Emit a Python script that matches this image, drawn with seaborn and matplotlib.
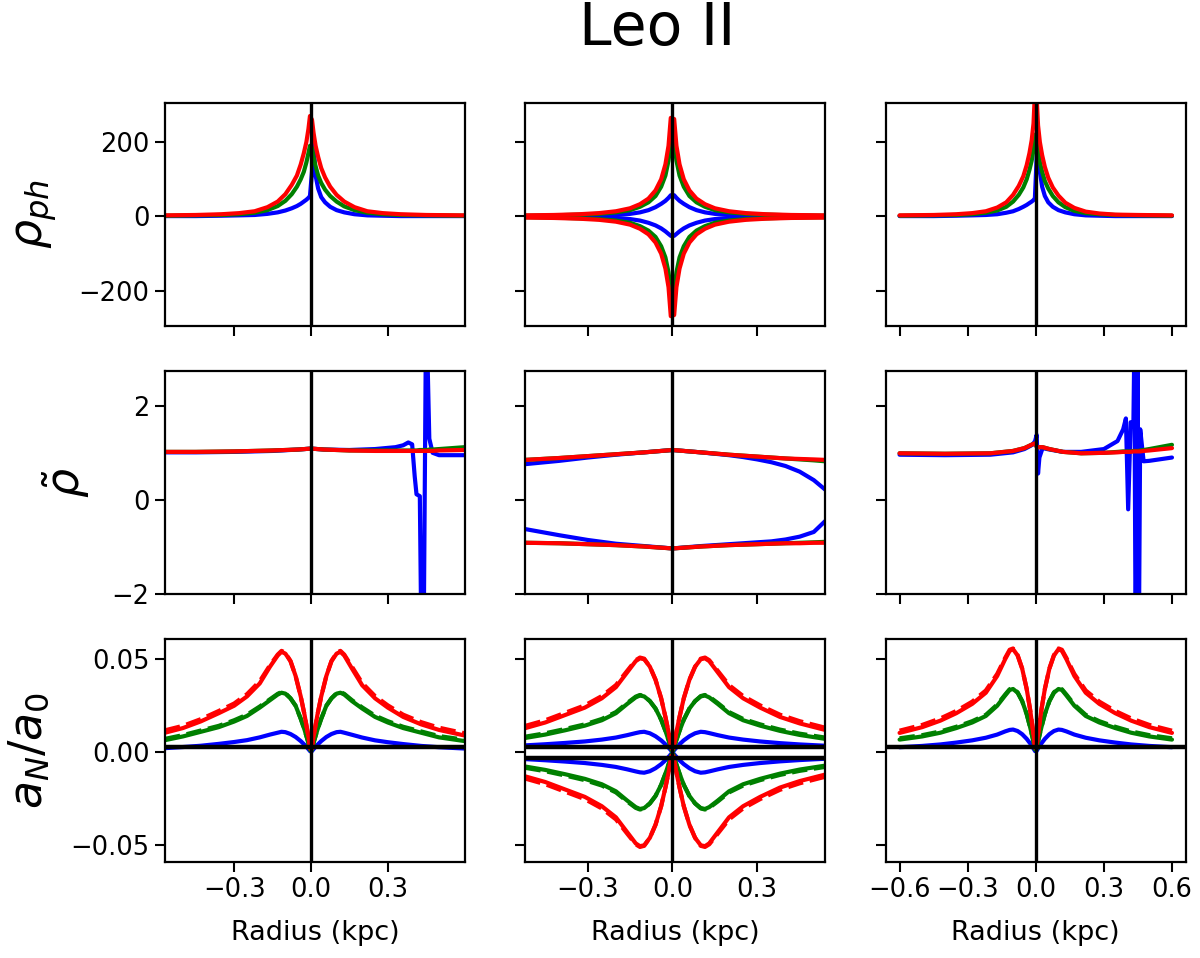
import numpy as np
import matplotlib
matplotlib.use("Agg")
import matplotlib.pyplot as plt
import seaborn as sns

sns.set_style("ticks")
plt.rcParams['font.family'] = ['DejaVu Sans']
plt.rcParams['axes.linewidth'] = 1.6
plt.rcParams['axes.edgecolor'] = 'black'
plt.rcParams['text.color'] = 'black'
plt.rcParams['axes.labelcolor'] = 'black'
plt.rcParams['xtick.color'] = 'black'
plt.rcParams['ytick.color'] = 'black'
plt.rcParams['xtick.major.width'] = 1.5
plt.rcParams['ytick.major.width'] = 1.5
plt.rcParams['xtick.major.size'] = 7
plt.rcParams['ytick.major.size'] = 7

# ---- x limits / ticks per column
XLIM = [(-0.57, 0.60), (-0.52, 0.54), (-0.66, 0.66)]
XTICKS = [[-0.3, 0.0, 0.3], [-0.3, 0.0, 0.3], [-0.6, -0.3, 0.0, 0.3, 0.6]]
YLIM = [(-295, 305), (-2.0, 2.74), (-0.059, 0.061)]
YTICKS = [[-200, 0, 200], [-2, 0, 2], [-0.05, 0.0, 0.05]]
YLABELS = [r'$\rho_{ph}$', r'$\tilde{\rho}$', r'$a_N/a_0$']
A0_LINE = 0.003

# ---- row 1: rho_ph
r1_x1 = [-0.57, -0.45, -0.35, -0.28, -0.22, -0.17, -0.13, -0.1, -0.075, -0.055, -0.04, -0.028, -0.018, -0.01, -0.004,
         0.004, 0.01, 0.018, 0.028, 0.04, 0.055, 0.075, 0.1, 0.13, 0.17, 0.22, 0.28, 0.35, 0.45, 0.6]
r1_red1 = [3, 4, 6, 9, 14, 25, 40, 60, 85, 110, 140, 170, 200, 235, 270,
           260, 225, 190, 160, 130, 105, 80, 58, 40, 25, 14, 9, 6, 4, 3]
r1_green1 = [2, 3, 4, 6, 10, 17, 28, 42, 60, 80, 100, 120, 145, 170, 190,
             185, 160, 135, 110, 90, 72, 55, 40, 27, 17, 10, 6, 4, 3, 2]
r1_blue1 = [1, 1, 2, 3, 4, 7, 11, 16, 22, 28, 34, 40, 45, 50, 55,
            120, 195, 110, 75, 52, 38, 26, 17, 11, 6, 3, 2, 1, 1, 1]

r1_x2 = [-0.52, -0.42, -0.33, -0.26, -0.2, -0.15, -0.115, -0.085, -0.06, -0.04, -0.025, -0.014, -0.006,
         0.006, 0.014, 0.025, 0.04, 0.06, 0.085, 0.115, 0.15, 0.2, 0.26, 0.33, 0.42, 0.54]
r1_red2_up = [3, 4, 6, 9, 14, 22, 33, 48, 70, 100, 140, 190, 265,
              262, 190, 140, 100, 70, 48, 33, 22, 14, 9, 6, 4, 3]
r1_red2_lo = [-3, -4, -6, -9, -14, -22, -33, -48, -70, -100, -140, -190, -268,
              -265, -190, -140, -100, -70, -48, -33, -22, -14, -9, -6, -4, -3]
r1_green2_up = [2, 3, 5, 7, 11, 17, 26, 38, 55, 80, 110, 150, 200,
                200, 150, 110, 80, 55, 38, 26, 17, 11, 7, 5, 3, 2]
r1_green2_lo = [-2, -3, -5, -7, -11, -17, -26, -38, -55, -80, -110, -150, -200,
                -200, -150, -110, -80, -55, -38, -26, -17, -11, -7, -5, -3, -2]
r1_blue2_up = [0.5, 1, 1.5, 2, 4, 7, 11, 17, 25, 34, 42, 50, 57,
               57, 50, 42, 34, 25, 17, 11, 7, 4, 2, 1.5, 1, 0.5]
r1_blue2_lo = [-0.5, -1, -1.5, -2, -4, -7, -11, -17, -24, -32, -40, -47, -52,
               -52, -47, -40, -32, -24, -17, -11, -7, -4, -2, -1.5, -1, -0.5]

r1_x3 = [-0.6, -0.45, -0.35, -0.28, -0.22, -0.17, -0.13, -0.1, -0.075, -0.055, -0.04, -0.028, -0.018, -0.01, -0.004,
         0.004, 0.01, 0.018, 0.028, 0.04, 0.055, 0.075, 0.1, 0.13, 0.17, 0.22, 0.28, 0.35, 0.45, 0.6]
r1_red3 = [3, 4, 6, 9, 14, 24, 38, 58, 82, 108, 138, 170, 205, 250, 330,
           320, 245, 200, 165, 133, 104, 78, 56, 37, 23, 13, 8, 5, 4, 3]
r1_green3 = [2, 3, 4, 6, 10, 16, 26, 40, 58, 78, 100, 125, 150, 180, 220,
             210, 175, 145, 120, 95, 75, 55, 38, 25, 15, 9, 6, 4, 3, 2]
r1_blue3 = [1, 1, 2, 3, 4, 6, 10, 14, 20, 26, 31, 36, 40, 44, 48,
            160, 220, 120, 80, 55, 38, 26, 17, 11, 6, 3, 2, 1, 1, 1]

# ---- row 2: rho tilde
r2_x1 = [-0.57, -0.45, -0.3, -0.15, -0.05, 0.0, 0.05, 0.15, 0.25, 0.33, 0.36, 0.38, 0.395, 0.405, 0.412,
         0.425, 0.43, 0.44, 0.448, 0.455, 0.462, 0.475, 0.5, 0.6]
r2_red1 = [1.02, 1.02, 1.03, 1.05, 1.07, 1.09, 1.07, 1.05, 1.04, 1.04, 1.04, 1.04, 1.04, 1.04, 1.04,
           1.04, 1.04, 1.04, 1.04, 1.04, 1.04, 1.04, 1.05, 1.06]
r2_green1 = [1.02, 1.02, 1.03, 1.05, 1.07, 1.09, 1.07, 1.05, 1.05, 1.05, 1.05, 1.05, 1.05, 1.05, 1.05,
             1.06, 1.06, 1.06, 1.06, 1.06, 1.07, 1.07, 1.08, 1.12]
r2_blue1 = [1.01, 1.01, 1.02, 1.04, 1.07, 1.09, 1.07, 1.06, 1.08, 1.12, 1.16, 1.22, 1.18, 0.5, 0.12,
            0.08, -2.5, -3.0, 3.0, 3.0, 1.3, 1.0, 0.95, 0.95]

r2_x2 = [-0.52, -0.4, -0.3, -0.2, -0.1, 0.0, 0.1, 0.2, 0.25, 0.3, 0.35, 0.4, 0.45, 0.5, 0.54]
r2_red2_up = [0.85, 0.89, 0.93, 0.97, 1.01, 1.06, 1.01, 0.96, 0.94, 0.92, 0.9, 0.88, 0.87, 0.86, 0.85]
r2_red2_lo = [-0.91, -0.92, -0.94, -0.96, -0.99, -1.03, -0.99, -0.96, -0.95, -0.94, -0.93, -0.92, -0.92, -0.91, -0.91]
r2_green2_up = [0.85, 0.89, 0.93, 0.97, 1.01, 1.06, 1.01, 0.96, 0.94, 0.92, 0.9, 0.88, 0.86, 0.84, 0.82]
r2_green2_lo = [-0.91, -0.92, -0.94, -0.96, -0.99, -1.03, -0.99, -0.96, -0.95, -0.94, -0.93, -0.92, -0.91, -0.9, -0.89]
r2_blue2_up = [0.76, 0.83, 0.9, 0.96, 1.01, 1.06, 1.01, 0.95, 0.91, 0.86, 0.8, 0.72, 0.6, 0.42, 0.22]
r2_blue2_lo = [-0.62, -0.75, -0.85, -0.93, -0.98, -1.03, -0.98, -0.94, -0.92, -0.9, -0.88, -0.84, -0.78, -0.68, -0.45]

r2_x3 = [-0.6, -0.4, -0.2, -0.1, -0.05, -0.015, -0.003, 0.004, 0.01, 0.016, 0.03, 0.06, 0.12, 0.2, 0.3,
         0.36, 0.385, 0.397, 0.407, 0.418, 0.43, 0.434, 0.44, 0.448, 0.454, 0.46, 0.475, 0.5, 0.6]
r2_red3 = [0.99, 0.98, 0.99, 1.04, 1.1, 1.18, 1.2, 1.13, 1.12, 1.12, 1.12, 1.08, 1.02, 0.99, 1.0,
           1.01, 1.02, 1.02, 1.02, 1.02, 1.03, 1.03, 1.03, 1.03, 1.03, 1.03, 1.04, 1.05, 1.1]
r2_green3 = [0.99, 0.98, 0.99, 1.04, 1.1, 1.18, 1.2, 1.13, 1.12, 1.12, 1.12, 1.08, 1.02, 0.99, 1.0,
             1.02, 1.03, 1.03, 1.03, 1.03, 1.04, 1.04, 1.04, 1.04, 1.04, 1.05, 1.06, 1.08, 1.17]
r2_blue3 = [0.96, 0.95, 0.96, 1.01, 1.08, 1.17, 1.25, 1.38, 0.56, 0.9, 1.1, 1.07, 1.02, 1.02, 1.08,
            1.25, 1.5, 1.73, -0.2, 1.65, 1.6, 3.2, -3.2, 3.2, -3.2, 1.5, 0.82, 0.83, 0.9]

# ---- row 3: a_N / a_0  (solid and dashed)
r3_x1 = [-0.57, -0.5, -0.43, -0.36, -0.3, -0.25, -0.2, -0.16, -0.13, -0.115, -0.1, -0.08, -0.06, -0.04, -0.025, -0.012, -0.003,
         0.003, 0.012, 0.025, 0.04, 0.06, 0.08, 0.1, 0.115, 0.13, 0.16, 0.2, 0.25, 0.3, 0.36, 0.43, 0.5, 0.6]
r3_red1 = [0.0105, 0.013, 0.0166, 0.021, 0.025, 0.030, 0.037, 0.046, 0.052, 0.054, 0.053, 0.049, 0.041, 0.030, 0.020, 0.010, 0.002,
           0.002, 0.010, 0.020, 0.030, 0.041, 0.049, 0.053, 0.054, 0.052, 0.045, 0.036, 0.029, 0.024, 0.019, 0.015, 0.012, 0.009]
r3_red1_d = [0.0118, 0.0142, 0.0178, 0.0222, 0.0262, 0.0312, 0.0382, 0.0468, 0.0525, 0.0545, 0.0535, 0.049, 0.041, 0.030, 0.020, 0.010, 0.002,
             0.002, 0.010, 0.020, 0.030, 0.041, 0.049, 0.0535, 0.0545, 0.0525, 0.046, 0.0372, 0.0302, 0.0252, 0.0202, 0.0162, 0.0132, 0.0102]
r3_green1 = [0.0065, 0.0085, 0.011, 0.0135, 0.0165, 0.0195, 0.024, 0.028, 0.031, 0.032, 0.0315, 0.029, 0.025, 0.018, 0.012, 0.006, 0.001,
             0.001, 0.006, 0.012, 0.018, 0.025, 0.029, 0.0315, 0.032, 0.031, 0.0275, 0.0235, 0.019, 0.016, 0.013, 0.0105, 0.008, 0.006]
r3_green1_d = [0.0072, 0.0092, 0.0117, 0.0142, 0.0172, 0.0202, 0.0246, 0.0285, 0.0314, 0.0324, 0.0318, 0.029, 0.025, 0.018, 0.012, 0.006, 0.001,
               0.001, 0.006, 0.012, 0.018, 0.025, 0.029, 0.0318, 0.0324, 0.0314, 0.028, 0.0241, 0.0197, 0.0167, 0.0137, 0.0112, 0.0087, 0.0067]
r3_blue1 = [0.0022, 0.0028, 0.0035, 0.0045, 0.0055, 0.0065, 0.008, 0.0095, 0.0105, 0.011, 0.0108, 0.0098, 0.0082, 0.006, 0.004, 0.002, 0.0005,
            0.0005, 0.002, 0.004, 0.006, 0.0082, 0.0098, 0.0108, 0.011, 0.0105, 0.0094, 0.0079, 0.0064, 0.0054, 0.0044, 0.0034, 0.0027, 0.002]

r3_x2 = [-0.52, -0.45, -0.38, -0.31, -0.25, -0.2, -0.16, -0.13, -0.115, -0.1, -0.08, -0.06, -0.04, -0.025, -0.012, -0.003,
         0.003, 0.012, 0.025, 0.04, 0.06, 0.08, 0.1, 0.115, 0.13, 0.16, 0.2, 0.25, 0.31, 0.38, 0.45, 0.54]
r3_red2_up = [0.013, 0.016, 0.020, 0.024, 0.029, 0.035, 0.043, 0.049, 0.0505, 0.050, 0.046, 0.039, 0.029, 0.019, 0.0095, 0.002,
              0.002, 0.0095, 0.019, 0.029, 0.039, 0.046, 0.050, 0.0505, 0.049, 0.043, 0.035, 0.029, 0.024, 0.019, 0.0155, 0.012]
r3_red2_up_d = [0.0142, 0.0172, 0.0212, 0.0252, 0.0302, 0.0361, 0.0438, 0.0495, 0.0509, 0.0503, 0.046, 0.039, 0.029, 0.019, 0.0095, 0.002,
                0.002, 0.0095, 0.019, 0.029, 0.039, 0.046, 0.0503, 0.0509, 0.0495, 0.0438, 0.0361, 0.0302, 0.0252, 0.0202, 0.0167, 0.0132]
r3_red2_lo = [-0.013, -0.016, -0.020, -0.024, -0.029, -0.035, -0.043, -0.049, -0.0505, -0.050, -0.046, -0.039, -0.029, -0.019, -0.0095, -0.002,
              -0.002, -0.0095, -0.019, -0.029, -0.039, -0.046, -0.050, -0.0505, -0.049, -0.043, -0.035, -0.029, -0.024, -0.019, -0.0155, -0.012]
r3_red2_lo_d = [-0.0142, -0.0172, -0.0212, -0.0252, -0.0302, -0.0361, -0.0438, -0.0495, -0.0509, -0.0503, -0.046, -0.039, -0.029, -0.019, -0.0095, -0.002,
                -0.002, -0.0095, -0.019, -0.029, -0.039, -0.046, -0.0503, -0.0509, -0.0495, -0.0438, -0.0361, -0.0302, -0.0252, -0.0202, -0.0167, -0.0132]
r3_green2_up = [0.0077, 0.0095, 0.0118, 0.0143, 0.0172, 0.021, 0.026, 0.0295, 0.0305, 0.030, 0.0275, 0.0235, 0.0175, 0.0115, 0.0057, 0.0012,
                0.0012, 0.0057, 0.0115, 0.0175, 0.0235, 0.0275, 0.030, 0.0305, 0.0295, 0.026, 0.021, 0.0172, 0.0143, 0.0115, 0.0093, 0.0072]
r3_green2_up_d = [0.0084, 0.0102, 0.0125, 0.015, 0.0179, 0.0216, 0.0265, 0.0299, 0.0308, 0.0302, 0.0275, 0.0235, 0.0175, 0.0115, 0.0057, 0.0012,
                  0.0012, 0.0057, 0.0115, 0.0175, 0.0235, 0.0275, 0.0302, 0.0308, 0.0299, 0.0265, 0.0216, 0.0179, 0.015, 0.0122, 0.01, 0.0079]
r3_green2_lo = [-0.0077, -0.0095, -0.0118, -0.0143, -0.0172, -0.021, -0.026, -0.0295, -0.0305, -0.030, -0.0275, -0.0235, -0.0175, -0.0115, -0.0057, -0.0012,
                -0.0012, -0.0057, -0.0115, -0.0175, -0.0235, -0.0275, -0.030, -0.0305, -0.0295, -0.026, -0.021, -0.0172, -0.0143, -0.0115, -0.0093, -0.0072]
r3_green2_lo_d = [-0.0084, -0.0102, -0.0125, -0.015, -0.0179, -0.0216, -0.0265, -0.0299, -0.0308, -0.0302, -0.0275, -0.0235, -0.0175, -0.0115, -0.0057, -0.0012,
                  -0.0012, -0.0057, -0.0115, -0.0175, -0.0235, -0.0275, -0.0302, -0.0308, -0.0299, -0.0265, -0.0216, -0.0179, -0.015, -0.0122, -0.01, -0.0079]
r3_blue2_up = [0.0037, 0.0043, 0.005, 0.0058, 0.0068, 0.0079, 0.0092, 0.0103, 0.0108, 0.011, 0.0102, 0.0086, 0.0064, 0.0043, 0.0022, 0.0006,
               0.0006, 0.0022, 0.0043, 0.0064, 0.0086, 0.0102, 0.011, 0.0108, 0.0103, 0.0092, 0.0079, 0.0068, 0.0058, 0.0049, 0.0042, 0.0035]
r3_blue2_lo = [-0.0037, -0.0043, -0.005, -0.0058, -0.0068, -0.0079, -0.0092, -0.0103, -0.0108, -0.011, -0.0102, -0.0086, -0.0064, -0.0043, -0.0022, -0.0006,
               -0.0006, -0.0022, -0.0043, -0.0064, -0.0086, -0.0102, -0.011, -0.0108, -0.0103, -0.0092, -0.0079, -0.0068, -0.0058, -0.0049, -0.0042, -0.0035]

r3_x3 = [-0.6, -0.5, -0.42, -0.35, -0.28, -0.22, -0.17, -0.135, -0.115, -0.1, -0.08, -0.06, -0.04, -0.025, -0.012, -0.003,
         0.003, 0.012, 0.025, 0.04, 0.06, 0.08, 0.1, 0.115, 0.135, 0.17, 0.22, 0.28, 0.35, 0.42, 0.5, 0.6]
r3_red3 = [0.0104, 0.0135, 0.017, 0.021, 0.026, 0.032, 0.041, 0.050, 0.0545, 0.0554, 0.052, 0.045, 0.034, 0.023, 0.0115, 0.0025,
           0.0025, 0.0115, 0.023, 0.034, 0.045, 0.052, 0.0554, 0.0545, 0.050, 0.041, 0.032, 0.026, 0.021, 0.017, 0.0135, 0.0104]
r3_red3_d = [0.0116, 0.0147, 0.0182, 0.0222, 0.0272, 0.0332, 0.0421, 0.0507, 0.0551, 0.0558, 0.0522, 0.045, 0.034, 0.023, 0.0115, 0.0025,
             0.0025, 0.0115, 0.023, 0.034, 0.045, 0.0522, 0.0558, 0.0551, 0.0507, 0.0421, 0.0332, 0.0272, 0.0222, 0.0182, 0.0147, 0.0116]
r3_green3 = [0.0068, 0.0085, 0.0105, 0.013, 0.016, 0.0195, 0.025, 0.0305, 0.0335, 0.034, 0.032, 0.0275, 0.0205, 0.0135, 0.0068, 0.0014,
             0.0014, 0.0068, 0.0135, 0.0205, 0.0275, 0.032, 0.034, 0.0335, 0.0305, 0.025, 0.0195, 0.016, 0.013, 0.0105, 0.0085, 0.0068]
r3_green3_d = [0.0075, 0.0092, 0.0112, 0.0137, 0.0167, 0.0201, 0.0256, 0.031, 0.0339, 0.0343, 0.0322, 0.0275, 0.0205, 0.0135, 0.0068, 0.0014,
               0.0014, 0.0068, 0.0135, 0.0205, 0.0275, 0.0322, 0.0343, 0.0339, 0.031, 0.0256, 0.0201, 0.0167, 0.0137, 0.0112, 0.0092, 0.0075]
r3_blue3 = [0.0027, 0.0034, 0.0042, 0.0052, 0.0064, 0.0078, 0.0095, 0.0112, 0.012, 0.0122, 0.0114, 0.0097, 0.0072, 0.0048, 0.0024, 0.0006,
            0.0006, 0.0024, 0.0048, 0.0072, 0.0097, 0.0114, 0.0122, 0.012, 0.0112, 0.0095, 0.0078, 0.0064, 0.0052, 0.0042, 0.0034, 0.0027]

# (row, col) -> list of (x, y, colour, linestyle)
panels = {
    (0, 0): [(r1_x1, r1_blue1, 'blue', '-'), (r1_x1, r1_green1, 'green', '-'), (r1_x1, r1_red1, 'red', '-')],
    (0, 1): [(r1_x2, r1_blue2_up, 'blue', '-'), (r1_x2, r1_blue2_lo, 'blue', '-'),
             (r1_x2, r1_green2_up, 'green', '-'), (r1_x2, r1_green2_lo, 'green', '-'),
             (r1_x2, r1_red2_up, 'red', '-'), (r1_x2, r1_red2_lo, 'red', '-')],
    (0, 2): [(r1_x3, r1_blue3, 'blue', '-'), (r1_x3, r1_green3, 'green', '-'), (r1_x3, r1_red3, 'red', '-')],
    (1, 0): [(r2_x1, r2_blue1, 'blue', '-'), (r2_x1, r2_green1, 'green', '-'), (r2_x1, r2_red1, 'red', '-')],
    (1, 1): [(r2_x2, r2_blue2_up, 'blue', '-'), (r2_x2, r2_blue2_lo, 'blue', '-'),
             (r2_x2, r2_green2_up, 'green', '-'), (r2_x2, r2_green2_lo, 'green', '-'),
             (r2_x2, r2_red2_up, 'red', '-'), (r2_x2, r2_red2_lo, 'red', '-')],
    (1, 2): [(r2_x3, r2_blue3, 'blue', '-'), (r2_x3, r2_green3, 'green', '-'), (r2_x3, r2_red3, 'red', '-')],
    (2, 0): [(r3_x1, r3_blue1, 'blue', '-'),
             (r3_x1, r3_green1_d, 'green', '--'), (r3_x1, r3_green1, 'green', '-'),
             (r3_x1, r3_red1_d, 'red', '--'), (r3_x1, r3_red1, 'red', '-')],
    (2, 1): [(r3_x2, r3_blue2_up, 'blue', '-'), (r3_x2, r3_blue2_lo, 'blue', '-'),
             (r3_x2, r3_green2_up_d, 'green', '--'), (r3_x2, r3_green2_up, 'green', '-'),
             (r3_x2, r3_green2_lo_d, 'green', '--'), (r3_x2, r3_green2_lo, 'green', '-'),
             (r3_x2, r3_red2_up_d, 'red', '--'), (r3_x2, r3_red2_up, 'red', '-'),
             (r3_x2, r3_red2_lo_d, 'red', '--'), (r3_x2, r3_red2_lo, 'red', '-')],
    (2, 2): [(r3_x3, r3_blue3, 'blue', '-'),
             (r3_x3, r3_green3_d, 'green', '--'), (r3_x3, r3_green3, 'green', '-'),
             (r3_x3, r3_red3_d, 'red', '--'), (r3_x3, r3_red3, 'red', '-')],
}

fig, axes = plt.subplots(3, 3, figsize=(12, 9.58), dpi=100, sharex='col', sharey='row')
fig.subplots_adjust(left=0.1375, right=0.988, top=0.8925, bottom=0.1002, wspace=0.203, hspace=0.2)

for (i, j), curves in panels.items():
    ax = axes[i, j]
    for x, y, c, ls in curves:
        sns.lineplot(x=x, y=y, ax=ax, color=c, lw=3, linestyle=ls, estimator=None, sort=False)
    ax.axvline(0, color='black', lw=2.4, zorder=5)
    if i == 2:
        ax.axhline(A0_LINE, color='black', lw=3.2, zorder=5)
        if j == 1:
            ax.axhline(-A0_LINE, color='black', lw=3.2, zorder=5)
        ax.set_xlabel('Radius (kpc)', fontsize=19.5, labelpad=12)
    ax.set_xlim(XLIM[j])
    ax.set_xticks(XTICKS[j])
    ax.set_ylim(YLIM[i])
    ax.set_yticks(YTICKS[i])
    ax.tick_params(labelsize=18.5, pad=4)
    if j == 0:
        ax.set_ylabel(YLABELS[i], fontsize=33, labelpad=14)
    else:
        ax.set_ylabel('')

fig.text(0.548, 1 - 28 / 958, 'Leo II', fontsize=42, ha='center', va='center')

fig.savefig('out.png', dpi=100)
